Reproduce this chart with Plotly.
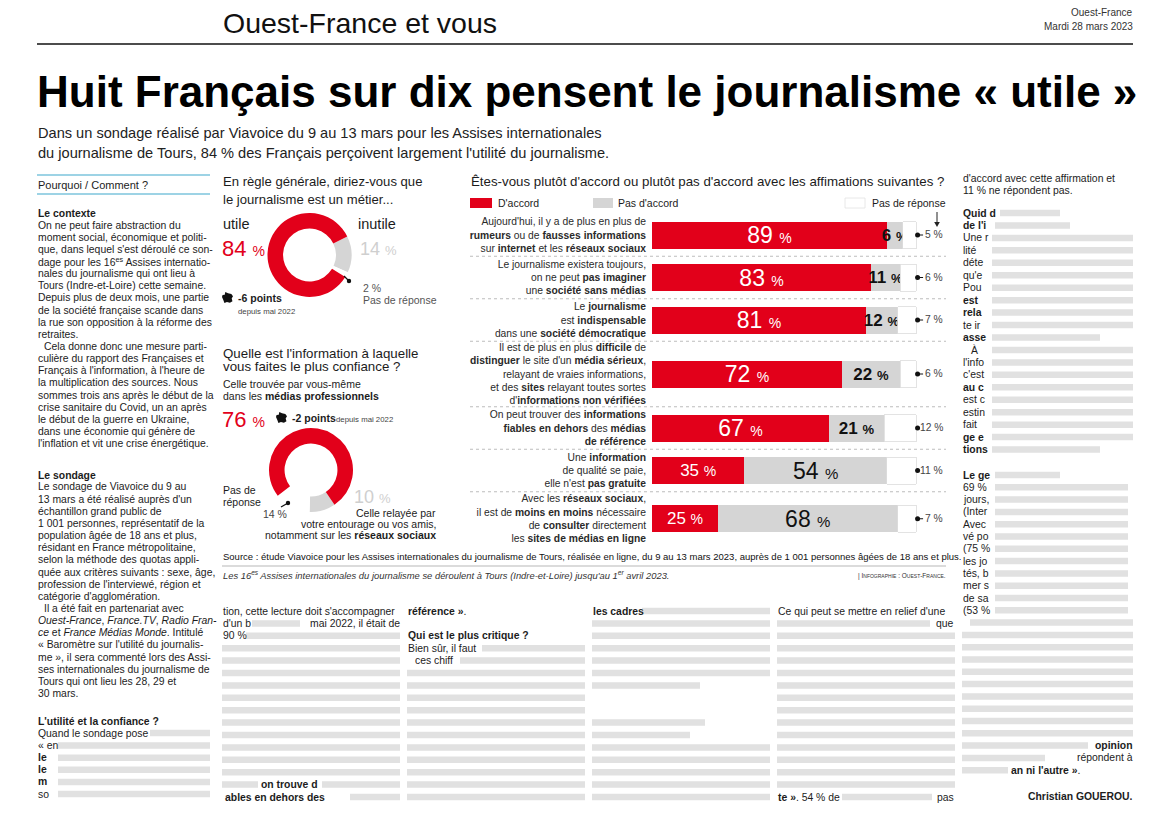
import plotly.graph_objects as go

PAGE_W, PAGE_H = 1170, 830
OFF = 8                      # default HTML body margin around the plot
W, H = PAGE_W - 2 * OFF, PAGE_H - 2 * OFF
RED = "#E2001A"
GREY = "#D5D5D5"
LIGHT = "#CFCFCF"
INK = "#1c1c1c"
SANS = "'Liberation Sans', Arial, Helvetica, sans-serif"

# ---------------- data ----------------
statements = [
    "Aujourd'hui, il y a de plus en plus de<br><b>rumeurs</b> ou de <b>fausses informations</b><br>sur <b>internet</b> et les <b>réseaux sociaux</b>",
    "Le journalisme existera toujours,<br>on ne peut <b>pas imaginer</b><br>une <b>société sans médias</b>",
    "Le <b>journalisme</b><br>est <b>indispensable</b><br>dans une <b>société démocratique</b>",
    "Il est de plus en plus <b>difficile</b> de<br><b>distinguer</b> le site d'un <b>média sérieux</b>,<br>relayant de vraies informations,<br>et des <b>sites</b> relayant toutes sortes<br>d'<b>informations non vérifiées</b>",
    "On peut trouver des <b>informations</b><br><b>fiables en dehors</b> des <b>médias</b><br><b>de référence</b>",
    "Une <b>information</b><br>de qualité se paie,<br>elle n'est <b>pas gratuite</b>",
    "Avec les <b>réseaux sociaux</b>,<br>il est de <b>moins en moins</b> nécessaire<br>de <b>consulter</b> directement<br>les <b>sites de médias en ligne</b>",
]
agree = [89, 83, 81, 72, 67, 35, 25]
disagree = [6, 11, 12, 22, 21, 54, 68]
no_answer = [5, 6, 7, 6, 12, 11, 7]

useful_labels = ["inutile", "Pas de réponse", "utile"]
useful_values = [14, 2, 84]
useful_change = "-6 points"

trust_labels = ["Entourage / réseaux sociaux", "Pas de réponse", "Médias professionnels"]
trust_values = [10, 14, 76]
trust_change = "-2 points"

# ---------------- helpers (page pixel coordinates -> paper) ----------------
def px(x):
    return (x - OFF) / W


def py(y):
    return 1 - (y - OFF) / H


shapes = []
annotations = []


def txt(x, y, s, size=11, color=INK, xanchor="left", yanchor="middle", family=SANS, align="left"):
    dx = -1.5 if xanchor == "left" else (1.5 if xanchor == "right" else 0)
    annotations.append(dict(x=px(x + dx), y=py(y), xref="paper", yref="paper", text=s, showarrow=False,
                            xanchor=xanchor, yanchor=yanchor, align=align,
                            font=dict(size=size, color=color, family=family)))


def hline(x0, x1, y, color="#000", width=1, dash="solid"):
    shapes.append(dict(type="line", xref="paper", yref="paper", x0=px(x0), x1=px(x1), y0=py(y), y1=py(y),
                       line=dict(color=color, width=width, dash=dash)))


def rect(x0, y0, x1, y1, fill, line_color=None):
    shapes.append(dict(type="rect", xref="paper", yref="paper", x0=px(x0), x1=px(x1), y0=py(y1), y1=py(y0),
                       fillcolor=fill, line=dict(width=0.8 if line_color else 0, color=line_color or fill)))


def blur(x0, x1, y, h=6.5):
    shapes.append(dict(type="rect", xref="paper", yref="paper", x0=px(x0), x1=px(x1), y0=py(y + h / 2),
                       y1=py(y - h / 2), fillcolor="#E1E1E1", line=dict(width=0), layer="below"))


def path(points, fill):
    p = "M " + " L ".join(f"{px(a):.5f},{py(b):.5f}" for a, b in points) + " Z"
    shapes.append(dict(type="path", xref="paper", yref="paper", path=p, fillcolor=fill, line=dict(width=0)))


def france(x, y, s=12):
    pts = [(0.30, 0.0), (0.55, 0.12), (0.85, 0.18), (1.0, 0.38), (0.88, 0.58), (0.95, 0.85), (0.72, 0.98),
           (0.45, 0.92), (0.22, 1.0), (0.12, 0.72), (0.0, 0.45), (0.05, 0.28), (0.25, 0.25)]
    path([(x + a * s, y + b * s) for a, b in pts], "#111")


def pointer(x0, y0, x1, y1):
    shapes.append(dict(type="line", xref="paper", yref="paper", x0=px(x0), y0=py(y0), x1=px(x1), y1=py(y1),
                       line=dict(color="#111", width=1.2)))
    r = 2.2
    shapes.append(dict(type="circle", xref="paper", yref="paper", x0=px(x1 - r), x1=px(x1 + r),
                       y0=py(y1 + r), y1=py(y1 - r), fillcolor="#111", line=dict(width=0)))


def pct(v, size, bold=False):
    s = f"{v} <span style='font-size:{size}px'>%</span>"
    return f"<b>{s}</b>" if bold else s


fig = go.Figure()

# ---------------- stacked bar chart ----------------
n_lines = [s.count("<br>") + 1 for s in statements]
slot = [8 + 11.5 * n for n in n_lines]
row_y = [235.0]
for i in range(1, len(statements)):
    row_y.append(row_y[-1] + (slot[i - 1] + slot[i]) / 2)
y_top = row_y[0] - slot[0] / 2 - 3
y_bot = row_y[-1] + slot[-1] / 2

X0, X100, XR = 652, 916, 946
x_max = 100 * (XR - X0) / (X100 - X0)

fig.add_trace(go.Bar(
    y=row_y, x=agree, orientation="h", width=27, marker=dict(color=RED, line=dict(width=0)),
    text=[pct(v, 14) for v in agree], textposition="inside", insidetextanchor="middle", textangle=0,
    constraintext="none", cliponaxis=False,
    textfont=dict(color="white", family=SANS, size=[23 if v >= 60 else 17 for v in agree]),
    hoverinfo="skip", showlegend=False))
fig.add_trace(go.Bar(
    y=row_y, x=disagree, orientation="h", width=27, marker=dict(color=GREY, line=dict(width=0)),
    text=[pct(v, 15 if v >= 50 else 13, bold=v < 50) for v in disagree], textposition="inside",
    insidetextanchor="middle", textangle=0, constraintext="none", cliponaxis=False,
    textfont=dict(color="#111", family=SANS, size=[23 if v >= 50 else 17 for v in disagree]),
    hoverinfo="skip", showlegend=False))
fig.add_trace(go.Bar(
    y=row_y, x=no_answer, orientation="h", width=27,
    marker=dict(color="white", line=dict(width=0.8, color="#DCDCDC")), textposition="none",
    hoverinfo="skip", showlegend=False))

# pointer dots for the "no answer" values
dot_x = [100.6 for _ in no_answer]
fig.add_trace(go.Scatter(x=dot_x, y=row_y, mode="markers", marker=dict(size=5, color="#111"),
                         cliponaxis=False, hoverinfo="skip", showlegend=False))
for i, v in enumerate(no_answer):
    annotations.append(dict(x=dot_x[i], y=row_y[i], xref="x", yref="y", text=f"{v} %", showarrow=True,
                            arrowhead=0, arrowwidth=1, arrowcolor="#111", ax=27, ay=0,
                            xanchor="right", standoff=0,
                            font=dict(size=10.3, color="#444", family=SANS)))

# separators
for i in range(len(statements) - 1):
    ysep = row_y[i] + slot[i] / 2
    shapes.append(dict(type="line", xref="paper", yref="y", x0=px(470), x1=px(946), y0=ysep, y1=ysep,
                       line=dict(color="#BDBDBD", width=1, dash="dot")))

# bar chart title and legend
txt(470, 182, "Êtes-vous plutôt d'accord ou plutôt pas d'accord avec les affimations suivantes ?", 13.3)
rect(470, 198, 492, 208, RED)
txt(497, 203, "D'accord", 10.5)
rect(593, 198, 613, 208, GREY)
txt(617, 203, "Pas d'accord", 10.5)
rect(845, 198, 865, 208, "white", "#E2E2E2")
txt(946, 203, "Pas de réponse", 10.5, xanchor="right")
shapes.append(dict(type="line", xref="paper", yref="paper", x0=px(937), x1=px(937), y0=py(212), y1=py(225),
                   line=dict(color="#222", width=1)))
path([(934.2, 222), (939.8, 222), (937, 227)], "#222")

# ---------------- donut 1 ----------------
r = 42
cx1, cy1 = 309.5, 255
fig.add_trace(go.Pie(
    values=useful_values, labels=useful_labels, hole=0.63, sort=False, direction="clockwise", rotation=64,
    marker=dict(colors=[GREY, "white", RED], line=dict(width=0)), textinfo="none", hoverinfo="skip",
    showlegend=False, domain=dict(x=[px(cx1 - r), px(cx1 + r)], y=[py(cy1 + r), py(cy1 - r)])))

txt(222, 182, "En règle générale, diriez-vous que", 13.1)
txt(222, 199, "le journalisme est un métier...", 13.1)
txt(222, 224, useful_labels[2], 14.5)
txt(221, 249, pct(useful_values[2], 14), 22, color=RED)
txt(357, 224, useful_labels[0], 14.5)
txt(359, 249, pct(useful_values[0], 13), 18, color=LIGHT)
pointer(344, 276, 349, 281)
txt(362, 288, pct(useful_values[1], 10.5), 10.5, color="#555")
txt(362, 300, useful_labels[1], 10.5, color="#555")
france(222, 292, 11)
txt(237, 298, f"<b>{useful_change}</b>", 10.5)
txt(237, 311, "depuis mai 2022", 7.8, color="#444")

# ---------------- donut 2 ----------------
cx2, cy2 = 311, 470
fig.add_trace(go.Pie(
    values=trust_values, labels=trust_labels, hole=0.63, sort=False, direction="clockwise", rotation=146,
    marker=dict(colors=[GREY, "white", RED], line=dict(width=0)), textinfo="none", hoverinfo="skip",
    showlegend=False, domain=dict(x=[px(cx2 - r), px(cx2 + r)], y=[py(cy2 + r), py(cy2 - r)])))

txt(222, 353, "Quelle est l'information à laquelle", 13.3)
txt(222, 367, "vous faites le plus confiance ?", 13.3)
txt(222, 384, "Celle trouvée par vous-même", 10.5)
txt(222, 396, "dans les <b>médias professionnels</b>", 10.5)
txt(221, 419, pct(trust_values[2], 14), 22, color=RED)
france(276, 412, 11)
txt(291, 418, f"<b>{trust_change}</b>", 10.5)
txt(335, 419, "depuis mai 2022", 7.8, color="#444")
txt(222, 490, "Pas de", 10.5)
txt(222, 502, "réponse", 10.5)
pointer(281, 507, 288, 503)
txt(262, 514, pct(trust_values[1], 10.5), 10.5, color="#444")
txt(353, 497, pct(trust_values[0], 13), 18, color=LIGHT)
txt(436, 513, "Celle relayée par", 10.5, xanchor="right")
txt(436, 524, "votre entourage ou vos amis,", 10.5, xanchor="right")
txt(436, 535, "notamment sur les <b>réseaux sociaux</b>", 10.5, xanchor="right")

# source
txt(222, 556, "Source : étude Viavoice pour les Assises internationales du journalisme de Tours, réalisée en ligne, "
              "du 9 au 13 mars 2023, auprès de 1 001 personnes âgées de 18 ans et plus.", 9.5, color="#111")
hline(222, 946, 566, "#9a9a9a", 0.7)
txt(222, 575, "<i>Les 16<sup>es</sup> Assises internationales du journalisme se déroulent à Tours (Indre-et-Loire) "
              "jusqu'au 1<sup>er</sup> avril 2023.</i>", 9.4, color="#333")
txt(946, 576, "| I<span style='font-size:5px'>NFOGRAPHIE</span> : O<span style='font-size:5px'>UEST</span>-"
              "F<span style='font-size:5px'>RANCE</span>.", 6.5, color="#333", xanchor="right")

# ---------------- header ----------------
txt(222, 23, "Ouest-France et vous", 28.5, color="#111")
txt(1133, 13, "Ouest-France", 10, color="#333", xanchor="right")
txt(1133, 27, "Mardi 28 mars 2023", 10, color="#333", xanchor="right")
hline(37, 1133, 44, "#111", 1.3)
txt(36, 91, "<b>Huit Français sur dix pensent le journalisme « utile »</b>", 44, color="#000")
txt(37, 133, "Dans un sondage réalisé par Viavoice du 9 au 13 mars pour les Assises internationales", 14.6,
    color="#222")
txt(37, 153, "du journalisme de Tours, 84 % des Français perçoivent largement l'utilité du journalisme.", 14.6,
    color="#222")

# ---------------- left column ----------------
BODY = 10.4
hline(37, 210, 175, "#7CC5DD", 1.5)
hline(37, 210, 194, "#7CC5DD", 1.5)
txt(37, 185, "Pourquoi / Comment ?", 11)

contexte = [
    "On ne peut faire abstraction du",
    "moment social, économique et politi-",
    "que, dans lequel s'est déroulé ce son-",
    "dage pour les 16<sup>es</sup> Assises internatio-",
    "nales du journalisme qui ont lieu à",
    "Tours (Indre-et-Loire) cette semaine.",
    "Depuis plus de deux mois, une partie",
    "de la société française scande dans",
    "la rue son opposition à la réforme des",
    "retraites.",
    "Cela donne donc une mesure parti-",
    "culière du rapport des Françaises et",
    "Français à l'information, à l'heure de",
    "la multiplication des sources. Nous",
    "sommes trois ans après le début de la",
    "crise sanitaire du Covid, un an après",
    "le début de la guerre en Ukraine,",
    "dans une économie qui génère de",
    "l'inflation et vit une crise énergétique.",
]
sondage = [
    "Le sondage de Viavoice du 9 au",
    "13 mars a été réalisé auprès d'un",
    "échantillon grand public de",
    "1 001 personnes, représentatif de la",
    "population âgée de 18 ans et plus,",
    "résidant en France métropolitaine,",
    "selon la méthode des quotas appli-",
    "quée aux critères suivants : sexe, âge,",
    "profession de l'interviewé, région et",
    "catégorie d'agglomération.",
    "Il a été fait en partenariat avec",
    "<i>Ouest-France</i>, <i>France.TV</i>, <i>Radio Fran-</i>",
    "<i>ce</i> et <i>France Médias Monde</i>. Intitulé",
    "« Baromètre sur l'utilité du journalis-",
    "me », il sera commenté lors des Assi-",
    "ses internationales du journalisme de",
    "Tours qui ont lieu les 28, 29 et",
    "30 mars.",
]
LH = 12.15
txt(37, 213, "<b>Le contexte</b>", BODY)
for k, line in enumerate(contexte):
    txt(37 + (6 if k == 10 else 0), 225 + k * LH, line, BODY)
txt(37, 475, "<b>Le sondage</b>", BODY)
for k, line in enumerate(sondage):
    txt(37 + (6 if k == 10 else 0), 487 + k * LH, line, BODY)
txt(37, 721, "<b>L'utilité et la confiance ?</b>", BODY)
txt(37, 733, "Quand le sondage pose", BODY)
blur(150, 210, 733)
for k, frag in enumerate(["« en", "<b>le</b>", "<b>le</b>", "<b>m</b>", "so"]):
    y = 745.5 + k * LH
    txt(37, y, frag, BODY)
    blur(58, 210, y)

# ---------------- right column ----------------
RX0, RX1 = 962, 1133
txt(RX0, 178, "d'accord avec cette affirmation et", BODY)
txt(RX0, 191, "11 % ne répondent pas.", BODY)
frag1 = ["<b>Quid d</b>", "<b>de l'i</b>", "Une r", "lité", "déte", "qu'e", "Pou", "<b>est</b>", "<b>rela</b>",
         "te ir", "<b>asse</b>", "À", "l'info", "c'est", "<b>au c</b>", "est c", "estin", "fait",
         "<b>ge e</b>", "<b>tions</b>"]
for k, frag in enumerate(frag1):
    y = 213 + k * 12.45
    txt(RX0 + (8 if k == 11 else 0), y, frag, BODY)
    if k == 0:
        blur(1000, 1060, y)
    elif k == 1:
        blur(995, 1070, y)
    else:
        blur(992, RX1 if k not in (10, 19) else 1100, y)
frag2 = ["<b>Le ge</b>", "69 %", "jours,", "(Inter", "Avec", "vé po", "(75 %", "les jo", "tés, b", "mer s",
         "de sa", "(53 %"]
for k, frag in enumerate(frag2):
    y = 475 + k * 12.3
    txt(RX0, y, frag, BODY)
    blur(995, 1060 if k == 0 else 1128, y)
for k in range(12, 22):
    blur(RX0 + (8 if k == 12 else 0), RX1, 475 + k * 12.3)
blur(RX0, 1088, 475 + 22 * 12.3)
txt(RX1, 475 + 22 * 12.3, "<b>opinion</b>", BODY, xanchor="right")
blur(RX0, 1045, 475 + 23 * 12.3)
txt(RX1, 475 + 23 * 12.3, "répondent à", BODY, xanchor="right")
blur(RX0, 1008, 475 + 24 * 12.3)
txt(1010, 475 + 24 * 12.3, "<b>an ni l'autre »</b>.", BODY)
txt(RX1, 796, "<b>Christian GOUEROU.</b>", BODY, xanchor="right")


# ---------------- bottom columns ----------------
def by(k):
    return 611 + k * 12.4


# col 1
txt(222, by(0), "tion, cette lecture doit s'accompagner", BODY)
txt(222, by(1), "d'un b", BODY)
blur(252, 300, by(1))
txt(400, by(1), "mai 2022, il était de", BODY, xanchor="right")
txt(222, by(2), "90 %", BODY)
blur(246, 400, by(2))
for k in range(3, 14):
    blur(222, 400, by(k))
blur(222, 258, by(14))
txt(260, by(14), "<b>on trouve d</b>", BODY)
blur(322, 400, by(14))
txt(224, by(15), "<b>ables en dehors des</b>", BODY)
blur(350, 400, by(15))
# col 2
txt(407, by(0), "<b>référence »</b>.", BODY)
txt(407, by(2), "<b>Qui est le plus critique ?</b>", BODY)
txt(407, by(3), "Bien sûr, il faut", BODY)
blur(482, 585, by(3))
txt(414, by(4), "ces chiff", BODY)
blur(460, 585, by(4))
for k in range(5, 16):
    blur(407, 585, by(k))
# col 3
txt(592, by(0), "<b>les cadres</b>", BODY)
blur(642, 770, by(0))
for k in range(1, 7):
    blur(592, 770 if k < 6 else 700, by(k))
blur(592, 705, by(9))
blur(592, 690, by(10))
for k in range(11, 16):
    blur(592, 770, by(k))
# col 4
txt(777, by(0), "Ce qui peut se mettre en relief d'une", BODY)
blur(777, 930, by(1))
txt(955, by(1), "que", BODY, xanchor="right")
for k in range(2, 15):
    blur(777, 955, by(k))
txt(777, by(15), "<b>te »</b>. 54 % de", BODY)
blur(842, 932, by(15))
txt(955, by(15), "pas", BODY, xanchor="right")

fig.update_layout(
    width=W, height=H, autosize=False, margin=dict(l=0, r=0, t=0, b=0),
    paper_bgcolor="white", plot_bgcolor="white", barmode="stack", showlegend=False,
    xaxis=dict(domain=[px(X0), px(XR)], range=[0, x_max], visible=False, fixedrange=True),
    yaxis=dict(domain=[py(y_bot), py(y_top)], range=[y_bot, y_top], tickvals=row_y, ticktext=statements,
               showgrid=False, zeroline=False, showline=False, ticks="", ticklabelstandoff=5,
               tickfont=dict(size=10.3, color="#2a2a2a", family=SANS), fixedrange=True),
    shapes=shapes, annotations=annotations,
)

fig.write_html("out.html")
